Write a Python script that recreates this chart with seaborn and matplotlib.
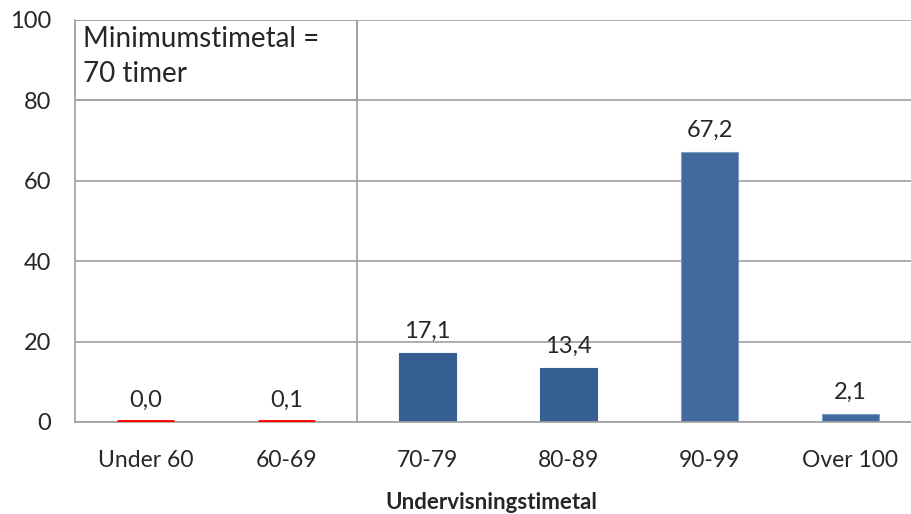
import matplotlib
matplotlib.use("Agg")
import matplotlib.pyplot as plt
import seaborn as sns
import pandas as pd
from matplotlib.patches import Rectangle

sns.set_style("white")
plt.rcParams['font.family'] = ['Lato', 'DejaVu Sans']

# Data
categories = ["Under 60", "60-69", "70-79", "80-89", "90-99", "Over 100"]
values = [0.0, 0.1, 17.1, 13.4, 67.2, 2.1]
bar_colors = ["#FF0000", "#FF0000", "#365F91", "#365F91", "#41699B", "#41699B"]
edge_colors = ["#FF0000", "#FF0000", "#365F91", "#365F91", "#7F9CC2", "#7F9CC2"]
yticks = [0, 20, 40, 60, 80, 100]
box_text = "Minimumstimetal =\n70 timer"
xlabel = "Undervisningstimetal"

df = pd.DataFrame({"cat": categories, "val": values})

grey = "#A0A0A0"
fig = plt.figure(figsize=(9.12, 5.14), dpi=100)
ax = fig.add_axes([75 / 912, 92 / 514, 846 / 912, 402 / 514])

sns.barplot(data=df, x="cat", y="val", hue="cat", palette=bar_colors,
            legend=False, width=0.4, ax=ax, saturation=1)
for i, p in enumerate(ax.patches):
    p.set_edgecolor(edge_colors[i])
    if i < 2:
        # near-zero bars show as a thin red line above the axis
        p.set_linewidth(3.5)
        p.set_zorder(3)
    else:
        p.set_linewidth(0.8)

ax.set_xlim(-0.5, 5.5)
ax.set_ylim(0, 100)
ax.set_yticks(yticks)
ax.set_yticklabels([str(t) for t in yticks], fontsize=17)
ax.yaxis.grid(True, color=grey, linewidth=1.2)
ax.set_axisbelow(True)

ax.set_xticks(range(len(categories)))
ax.set_xticklabels(categories, fontsize=16.5)
ax.set_xticks([i - 0.5 for i in range(len(categories) + 1)], minor=True)
ax.tick_params(axis="x", which="major", length=0, pad=20)
ax.tick_params(axis="x", which="minor", length=8, width=1.2, color=grey, direction="out")
ax.tick_params(axis="y", length=9, width=1.2, color=grey, direction="out", pad=8)

for s in ["top", "right"]:
    ax.spines[s].set_visible(False)
for s in ["left", "bottom"]:
    ax.spines[s].set_color(grey)
    ax.spines[s].set_linewidth(1.2)

# threshold line and text box
ax.axvline(1.5, color=grey, linewidth=1.2, zorder=1)
ax.add_patch(Rectangle((-0.5, 80), 2, 20, fill=False, edgecolor=grey, linewidth=1.2, zorder=1))
ax.text(-0.44, 98.5, box_text, fontsize=20, va="top", ha="left", linespacing=1.45)

for i, v in enumerate(values):
    ax.annotate(f"{v:.1f}".replace(".", ","), (i, v), xytext=(0, 8),
                textcoords="offset points", ha="center", va="bottom", fontsize=17)

ax.set_ylabel("")
ax.set_xlabel(xlabel, fontsize=16, fontweight="bold")
ax.xaxis.set_label_coords((491 - 75) / 846, -0.175)

fig.savefig("out.png", dpi=100)
